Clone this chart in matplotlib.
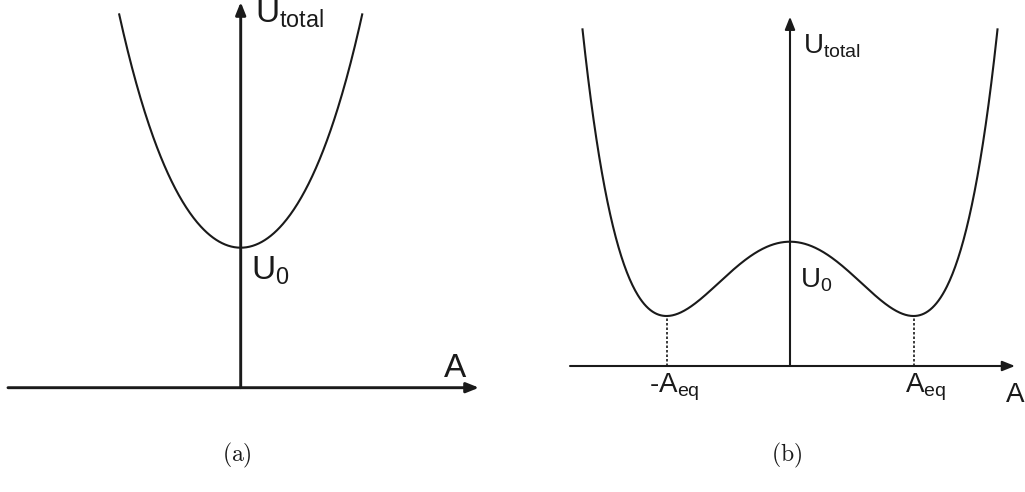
import numpy as np
import matplotlib.pyplot as plt

plt.rcParams['font.family'] = ['Liberation Sans', 'DejaVu Sans']
plt.rcParams['mathtext.fontset'] = 'cm'

# (a) single well: U = U0 + k2 A^2 + k4 A^4
U0_a = 1.40
k2_a = 1.30
k4_a = 0.19
A_lim_a = 1.215

# (b) double well: U = Umin + (x^2 - 1)^2 (dU + k6 x^4), x = A / A_eq
U0_b = 1.243
Umin_b = 0.50
A_eq = 1.235
k6_b = 0.015
A_lim_b = 2.075

ink = '#1a1a1a'

fig = plt.figure(figsize=(10.25, 4.92), dpi=100)
ax_a = fig.add_axes([0, 0, 0.5, 1])
ax_b = fig.add_axes([0.5, 0, 0.5, 1])
for ax in (ax_a, ax_b):
    ax.axis('off')
ax_a.set_xlim(-2.407, 2.718)
ax_a.set_ylim(-1.043, 3.877)
ax_b.set_xlim(-2.775, 2.35)
ax_b.set_ylim(-1.26, 3.66)


def arrow(ax, start, tip, lw):
    ax.annotate('', xy=tip, xytext=start,
                arrowprops=dict(arrowstyle='-|>,head_length=0.75,head_width=0.3',
                                lw=lw, color=ink, shrinkA=0, shrinkB=0,
                                mutation_scale=10))


# ---- (a) ----
A = np.linspace(-A_lim_a, A_lim_a, 400)
U = U0_a + k2_a * A**2 + k4_a * A**4
ax_a.plot(A, U, color=ink, lw=1.5)
arrow(ax_a, (-2.327, 0), (2.383, 0), 2.1)
arrow(ax_a, (0, 0), (0, 3.857), 2.1)

ax_a.text(0.143, 3.647, r'$\mathregular{U_{total}}$', fontsize=24, va='baseline', color=ink)
ax_a.text(0.10, 1.077, r'$\mathregular{U_0}$', fontsize=24, va='baseline', color=ink)
ax_a.text(2.033, 0.107, 'A', fontsize=24, va='baseline', color=ink)
ax_a.text(-0.037, -0.68, r'$\mathrm{(a)}$', fontsize=17, ha='center', va='center', color=ink)

# ---- (b) ----
A = np.linspace(-A_lim_b, A_lim_b, 600)
x = A / A_eq
U = Umin_b + (x**2 - 1)**2 * ((U0_b - Umin_b) + k6_b * x**4)
ax_b.plot(A, U, color=ink, lw=1.5)
for a in (-A_eq, A_eq):
    ax_b.plot([a, a], [0, Umin_b], color=ink, lw=1.2, linestyle=(0, (1.5, 1.2)))
arrow(ax_b, (-2.20, 0), (2.25, 0), 1.5)
arrow(ax_b, (0, 0), (0, 3.493), 1.5)

ax_b.text(0.127, 3.12, r'$\mathregular{U_{total}}$', fontsize=20, va='baseline', color=ink)
ax_b.text(0.10, 0.79, r'$\mathregular{U_0}$', fontsize=20, va='baseline', color=ink)
ax_b.text(-1.41, -0.265, r'-$\mathregular{A_{eq}}$', fontsize=20, va='baseline', color=ink)
ax_b.text(1.15, -0.265, r'$\mathregular{A_{eq}}$', fontsize=20, va='baseline', color=ink)
ax_b.text(2.16, -0.36, 'A', fontsize=20, va='baseline', color=ink)
ax_b.text(-0.03, -0.89, r'$\mathrm{(b)}$', fontsize=17, ha='center', va='center', color=ink)

fig.savefig('out.png', dpi=100)
